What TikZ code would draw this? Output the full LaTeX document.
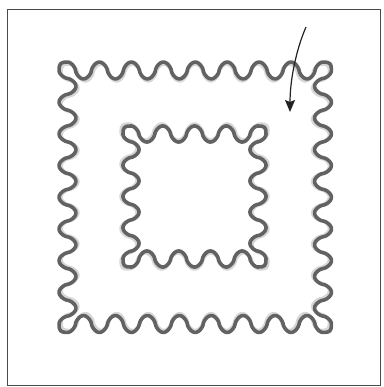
\documentclass[tikz,border=0pt]{standalone}
\usetikzlibrary{arrows.meta}
\definecolor{wavedark}{HTML}{626262}
\definecolor{wavelight}{HTML}{D6D6D6}
\definecolor{framecol}{HTML}{4A4A4A}
\definecolor{arrowcol}{HTML}{222222}
\tikzset{
  darkwave/.style={draw=wavedark,line width=3.6pt,line join=round,line cap=round},
  lightwave/.style={draw=wavelight,line width=3.4pt,line join=round,line cap=round},
  framebox/.style={draw=framecol,line width=0.9pt},
  bentarrow/.style={draw=arrowcol,line width=1.2pt,-{Stealth[length=12pt,width=10pt,inset=2pt]}},
  declare function={sq(\p)=cos(\p)*exp(-0.35*ln(abs(cos(\p))+0.0001));}
}
% #1=X0 #2=Y0 #3=X1 #4=Y1 #5=periods #6=amplitude #7=style
\newcommand\wavysq[7]{%
  \draw[#7] (#1,#2-#6)
    -- plot[domain=0:1,samples=401] ({#1+\x*(#3-#1)},{#2-#6*sq(360*#5*\x)})
    .. controls ({#3+0.85*#6},{#2-#6}) and ({#3+#6},{#2-0.85*#6}) .. ({#3+#6},#2)
    -- plot[domain=0:1,samples=401] ({#3+#6*sq(360*#5*\x)},{#2+\x*(#4-#2)})
    .. controls ({#3+#6},{#4+0.85*#6}) and ({#3+0.85*#6},{#4+#6}) .. (#3,{#4+#6})
    -- plot[domain=0:1,samples=401] ({#3-\x*(#3-#1)},{#4+#6*sq(360*#5*\x)})
    .. controls ({#1-0.85*#6},{#4+#6}) and ({#1-#6},{#4+0.85*#6}) .. ({#1-#6},#4)
    -- plot[domain=0:1,samples=401] ({#1-#6*sq(360*#5*\x)},{#4-\x*(#4-#2)})
    .. controls ({#1-#6},{#2-0.85*#6}) and ({#1-0.85*#6},{#2-#6}) .. (#1,{#2-#6})
    -- cycle;}
\begin{document}
\begin{tikzpicture}[x=1pt,y=-1pt]
\useasboundingbox (0,0) rectangle (383,387);
\draw[framebox] (7,9) rectangle (380,385);
% outer wavy square: shadow inset, then dark line
\wavysq{69.5}{72.5}{321}{322}{8}{8.4}{lightwave}
\wavysq{67.5}{70.5}{323}{324}{8}{8.4}{darkwave}
% inner wavy square: shadow outset, then dark line
\wavysq{129}{132}{260}{261}{4}{8}{lightwave}
\wavysq{131}{134}{258}{259}{4}{8}{darkwave}
% arrow
\coordinate (arrowstart) at (306,27);
\coordinate (arrowend) at (290,112);
\draw[bentarrow] (arrowstart) .. controls (296,50) and (290,80) .. (arrowend);
\end{tikzpicture}
\end{document}
